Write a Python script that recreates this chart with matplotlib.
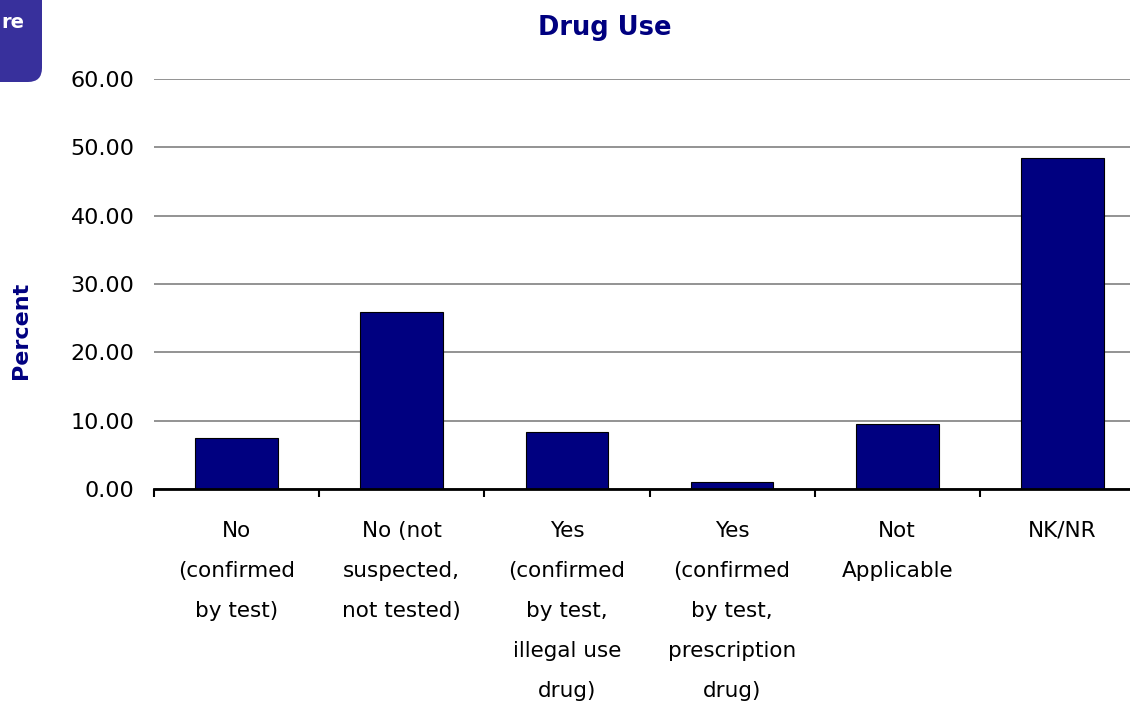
import matplotlib
matplotlib.use("Agg")
import matplotlib.pyplot as plt
from matplotlib.patches import FancyBboxPatch
from matplotlib.transforms import IdentityTransform
import numpy as np

# Data
categories = [
    "No\n(confirmed\nby test)",
    "No (not\nsuspected,\nnot tested)",
    "Yes\n(confirmed\nby test,\nillegal use\ndrug)",
    "Yes\n(confirmed\nby test,\nprescription\ndrug)",
    "Not\nApplicable",
    "NK/NR",
]
percent = [7.45, 25.90, 8.35, 1.00, 9.50, 48.45]
yticks = [0, 10, 20, 30, 40, 50, 60]

navy = "#000080"

fig = plt.figure(figsize=(11.3, 7.05), dpi=100)
ax = fig.add_axes([154 / 1130, 1 - 489 / 705, 991 / 1130, 410 / 705])

x = np.arange(len(categories))
ax.bar(x, percent, width=0.5, color=navy, edgecolor="black", linewidth=0.8, zorder=3)

ax.set_xlim(-0.5, len(categories) - 0.5)
ax.set_ylim(0, 60)
ax.set_yticks(yticks)
ax.set_yticklabels([f"{v:.2f}" for v in yticks], fontsize=16)
ax.yaxis.grid(True, color="#808080", linewidth=1.2, zorder=0)
ax.tick_params(axis="y", length=0, pad=14)

ax.set_xticks(x)
ax.set_xticklabels(categories, fontsize=15.5, linespacing=2.25, va="top")
ax.tick_params(axis="x", which="major", length=0, pad=23)
ax.set_xticks(np.arange(-0.5, len(categories)), minor=True)
ax.tick_params(axis="x", which="minor", length=6, width=1.5, direction="out")

for s in ["left", "right", "top"]:
    ax.spines[s].set_visible(False)
ax.spines["bottom"].set_linewidth(2)
ax.spines["bottom"].set_zorder(4)

fig.text(605 / 1130, 1 - 28 / 705, "Drug Use", ha="center", va="center",
         fontsize=18.5, fontweight="bold", color=navy)
fig.text(21 / 1130, 1 - 330 / 705, "Percent", ha="center", va="center",
         rotation=90, fontsize=16, fontweight="bold", color=navy)

# partial box in the corner
box = FancyBboxPatch((-40, 705 - 82), 82, 140, boxstyle="round,pad=0,rounding_size=14",
                     transform=IdentityTransform(), facecolor="#38309c", edgecolor="none")
fig.patches.append(box)
fig.text(1 / 1130, 1 - 22 / 705, "re", ha="left", va="center",
         fontsize=14, fontweight="bold", color="white")

fig.savefig("out.png", dpi=100)
